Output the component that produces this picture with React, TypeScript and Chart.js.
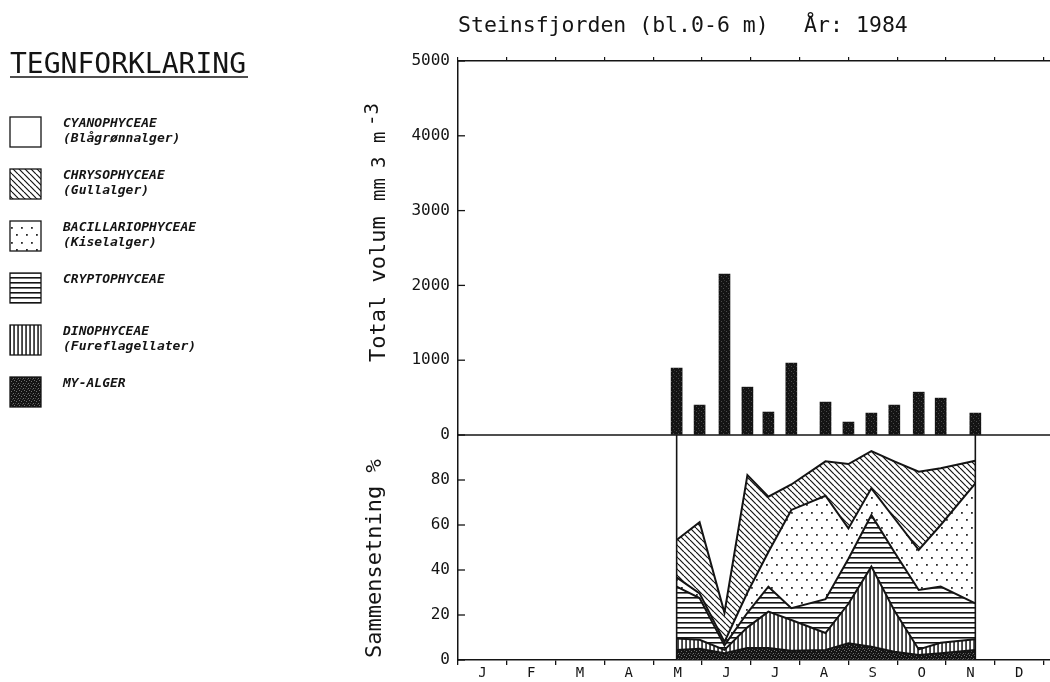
import React, { useEffect, useRef } from 'react';
import { Chart, registerables } from 'chart.js';

Chart.register(...registerables);

// sampling dates as position on the month axis (0 = 1 Jan, 12 = 31 Dec)
const sampleMonth = [4.48, 4.95, 5.46, 5.93, 6.36, 6.83, 7.53, 8.0, 8.47, 8.94, 9.44, 9.89, 10.6];

// total volume, mm3 per m3
const totalVolume = [893, 400, 2150, 640, 307, 960, 440, 173, 293, 400, 573, 493, 293];

// composition, % of total volume (stacked from the bottom)
const myAlger = [4.4, 5, 3, 5.3, 5.3, 4.1, 4.5, 7.4, 5.9, 3.7, 2.2, 3, 4.4];
const dinophyceae = [5.2, 4, 1.5, 9.2, 16.2, 13.7, 7.5, 17.6, 35.6, 18.3, 2.5, 4.7, 4.8];
const cryptophyceae = [23, 18.5, 2, 6.5, 11.1, 5.2, 15, 20, 22.9, 26, 26.4, 24.9, 16];
const bacillariophyceae = [4.1, 2.1, 1.5, 9, 15.4, 43.7, 46, 13.5, 11.9, 15, 17.8, 27.4, 53.3];
const chrysophyceae = [16.6, 31.6, 13, 52.2, 24.6, 11.3, 15.3, 28.6, 16.5, 25.3, 34.8, 25.2, 10.1];

const monthLabels = ['J', 'F', 'M', 'A', 'M', 'J', 'J', 'A', 'S', 'O', 'N', 'D'];
const monthEdges = [0, 1, 2, 3, 4, 5, 6, 7, 8, 9, 10, 11, 12];
const volumeTicks = [0, 1000, 2000, 3000, 4000, 5000];
const percentTicks = [0, 20, 40, 60, 80];

const legendItems = [
    { name: 'CYANOPHYCEAE', note: '(Blågrønnalger)', fill: 'blank' },
    { name: 'CHRYSOPHYCEAE', note: '(Gullalger)', fill: 'diag' },
    { name: 'BACILLARIOPHYCEAE', note: '(Kiselalger)', fill: 'dots' },
    { name: 'CRYPTOPHYCEAE', note: '', fill: 'horiz' },
    { name: 'DINOPHYCEAE', note: '(Fureflagellater)', fill: 'vert' },
    { name: 'MY-ALGER', note: '', fill: 'dark' },
];

const INK = '#141414';
const MONO = '"DejaVu Sans Mono", monospace';
const X_MAX = 12.13;
const MONTH_PX = 48.8;

function makePattern(kind: string): CanvasPattern | string {
    if (kind === 'blank') return '#ffffff';
    const sizes: Record<string, [number, number]> = {
        diag: [6, 6], dots: [10, 15], horiz: [4, 5], vert: [4, 4], dark: [5, 5], bar: [5, 5],
    };
    const [w, h] = sizes[kind];
    const c = document.createElement('canvas');
    c.width = w;
    c.height = h;
    const g = c.getContext('2d')!;
    g.fillStyle = '#fff';
    g.fillRect(0, 0, w, h);
    g.fillStyle = INK;
    g.strokeStyle = INK;
    if (kind === 'diag') {
        g.lineWidth = 1.2;
        for (const o of [-w, 0, w]) {
            g.beginPath();
            g.moveTo(o, 0);
            g.lineTo(o + w, h);
            g.stroke();
        }
    }
    if (kind === 'dots') {
        g.fillStyle = '#2a2a2a';
        g.fillRect(1, 2, 1.8, 1.8);
        g.fillRect(6, 9, 1.8, 1.8);
    }
    if (kind === 'horiz') g.fillRect(0, 2, w, 1.6);
    if (kind === 'vert') g.fillRect(1.3, 0, 1.5, h);
    if (kind === 'dark') {
        g.fillRect(0, 0, w, h);
        g.fillStyle = '#707070';
        g.fillRect(1, 1, 1, 1);
        g.fillRect(3, 3, 1, 1);
        g.fillRect(4, 0, 1, 1);
        g.fillStyle = '#444';
        g.fillRect(2, 4, 1, 1);
        g.fillRect(0, 3, 1, 1);
    }
    if (kind === 'bar') {
        g.fillRect(0, 0, w, h);
        g.fillStyle = '#4a4a4a';
        g.fillRect(1, 1, 1, 1);
        g.fillRect(3, 3, 1, 1);
        g.fillStyle = '#333';
        g.fillRect(4, 0, 1, 1);
    }
    return g.createPattern(c, 'repeat')!;
}

function text(ctx: CanvasRenderingContext2D, s: string, x: number, y: number, font: string) {
    ctx.font = font;
    ctx.textAlign = 'left';
    ctx.textBaseline = 'alphabetic';
    ctx.fillText(s, x, y);
}

function upText(ctx: CanvasRenderingContext2D, s: string, x: number, y: number, font: string, raise = 0) {
    ctx.save();
    ctx.translate(x, y);
    ctx.rotate(-Math.PI / 2);
    text(ctx, s, 0, -raise, font);
    ctx.restore();
}

function line(ctx: CanvasRenderingContext2D, x1: number, y1: number, x2: number, y2: number) {
    ctx.beginPath();
    ctx.moveTo(x1, y1);
    ctx.lineTo(x2, y2);
    ctx.stroke();
}

export default function App() {
    const canvasRef = useRef<HTMLCanvasElement>(null);

    useEffect(() => {
        if (!canvasRef.current) return;
        const fills: Record<string, CanvasPattern | string> = {};
        for (const k of ['blank', 'diag', 'dots', 'horiz', 'vert', 'dark', 'bar']) fills[k] = makePattern(k);

        const layers = [
            { label: 'MY-ALGER', values: myAlger, fill: 'dark' },
            { label: 'DINOPHYCEAE', values: dinophyceae, fill: 'vert' },
            { label: 'CRYPTOPHYCEAE', values: cryptophyceae, fill: 'horiz' },
            { label: 'BACILLARIOPHYCEAE', values: bacillariophyceae, fill: 'dots' },
            { label: 'CHRYSOPHYCEAE', values: chrysophyceae, fill: 'diag' },
        ];

        const decor = {
            id: 'decor',
            afterDatasetsDraw(chart: any) {
                const { ctx, chartArea, scales } = chart;
                const yTop = scales.yTop;
                const yBot = scales.yBot;
                ctx.save();
                ctx.strokeStyle = INK;
                ctx.lineWidth = 1.6;
                const y0 = yTop.getPixelForValue(0);
                line(ctx, chartArea.left, y0, chartArea.right, y0);
                for (const m of [sampleMonth[0], sampleMonth[sampleMonth.length - 1]]) {
                    const px = scales.x.getPixelForValue(m);
                    line(ctx, px, yBot.getPixelForValue(0), px, yBot.getPixelForValue(100));
                }
                ctx.lineWidth = 1.3;
                for (const s of [yTop, yBot]) {
                    for (const t of s.ticks) {
                        const py = s.getPixelForValue(t.value);
                        line(ctx, chartArea.left, py, chartArea.left + 7, py);
                    }
                }
                ctx.restore();
            },
            afterDraw(chart: any) {
                const ctx: CanvasRenderingContext2D = chart.ctx;
                ctx.save();
                ctx.fillStyle = INK;
                // title
                text(ctx, 'Steinsfjorden (bl.0-6 m)', 458, 32, `21.5px ${MONO}`);
                text(ctx, 'År:', 804, 32, `21.5px ${MONO}`);
                text(ctx, '1984', 856, 32, `21.5px ${MONO}`);
                // axis titles
                upText(ctx, 'Total volum', 385, 362, `22px ${MONO}`);
                upText(ctx, 'mm', 385, 201, `19px ${MONO}`);
                upText(ctx, '3', 385, 168, `19px ${MONO}`);
                upText(ctx, 'm', 385, 143, `19px ${MONO}`);
                upText(ctx, '-3', 385, 126, `19px ${MONO}`, 7);
                upText(ctx, 'Sammensetning %', 381, 658, `22px ${MONO}`);
                // legend
                text(ctx, 'TEGNFORKLARING', 10, 73, `28px ${MONO}`);
                ctx.strokeStyle = INK;
                ctx.lineWidth = 1.5;
                line(ctx, 10, 77, 248, 77);
                legendItems.forEach((item, i) => {
                    const top = 117 + 52 * i;
                    ctx.fillStyle = fills[item.fill] as any;
                    ctx.fillRect(10, top, 31, 30);
                    ctx.lineWidth = 1.3;
                    ctx.strokeRect(10, top, 31, 30);
                    ctx.fillStyle = INK;
                    text(ctx, item.name, 63, top + 10, `italic bold 13px ${MONO}`);
                    if (item.note) text(ctx, item.note, 63, top + 25, `italic bold 13px ${MONO}`);
                });
                ctx.restore();
            },
        };

        const tickFont = { family: MONO, size: 16 };
        const axisBorder = { display: true, color: INK, width: 1.5 };

        const chart = new Chart(canvasRef.current, {
            type: 'line',
            data: {
                datasets: [
                    ...layers.map((layer, i) => ({
                        type: 'line',
                        label: layer.label,
                        data: sampleMonth.map((x, j) => ({ x, y: layer.values[j] })),
                        xAxisID: 'x',
                        yAxisID: 'yBot',
                        fill: i === 0 ? 'origin' : '-1',
                        backgroundColor: fills[layer.fill],
                        borderColor: INK,
                        borderWidth: 2,
                        pointRadius: 0,
                        tension: 0,
                    })),
                    {
                        type: 'bar',
                        label: 'Total volum',
                        data: sampleMonth.map((x, j) => ({ x, y: totalVolume[j] })),
                        xAxisID: 'x',
                        yAxisID: 'yTop',
                        backgroundColor: fills.bar,
                        borderWidth: 0,
                        barThickness: 11,
                    },
                ],
            } as any,
            options: {
                responsive: false,
                animation: false,
                layout: { padding: 0 },
                plugins: {
                    legend: { display: false },
                    title: { display: false },
                    tooltip: { enabled: false },
                },
                scales: {
                    x: {
                        type: 'linear',
                        position: 'bottom',
                        min: 0,
                        max: X_MAX,
                        offset: false,
                        afterBuildTicks: (s: any) => { s.ticks = monthEdges.map(v => ({ value: v })); },
                        afterFit: (s: any) => { s.height = 22; },
                        grid: { drawOnChartArea: false, offset: false, tickLength: 5, color: INK, lineWidth: 1.3 },
                        border: axisBorder,
                        ticks: {
                            autoSkip: false,
                            maxRotation: 0,
                            padding: 0,
                            labelOffset: MONTH_PX / 2,
                            color: INK,
                            font: { family: MONO, size: 14 },
                            callback: (v: any) => monthLabels[v] ?? '',
                        },
                    },
                    xTop: {
                        type: 'linear',
                        position: 'top',
                        min: 0,
                        max: X_MAX,
                        offset: false,
                        afterBuildTicks: (s: any) => { s.ticks = monthEdges.map(v => ({ value: v })); },
                        afterFit: (s: any) => { s.height = 61; },
                        grid: { drawOnChartArea: false, offset: false, tickLength: 4, color: INK, lineWidth: 1.2 },
                        border: axisBorder,
                        ticks: { display: false },
                    },
                    yTop: {
                        type: 'linear',
                        position: 'left',
                        stack: 'panels',
                        stackWeight: 374,
                        weight: 1,
                        min: 0,
                        max: 5000,
                        afterBuildTicks: (s: any) => { s.ticks = volumeTicks.map(v => ({ value: v })); },
                        afterFit: (s: any) => { s.width = 458; },
                        grid: { drawOnChartArea: false, drawTicks: false },
                        border: axisBorder,
                        ticks: { padding: 8, color: INK, font: tickFont, callback: (v: any) => String(v) },
                    },
                    yBot: {
                        type: 'linear',
                        position: 'left',
                        stack: 'panels',
                        stackWeight: 225,
                        weight: 0,
                        stacked: true,
                        min: 0,
                        max: 100,
                        afterBuildTicks: (s: any) => { s.ticks = percentTicks.map(v => ({ value: v })); },
                        afterFit: (s: any) => { s.width = 458; },
                        grid: { drawOnChartArea: false, drawTicks: false },
                        border: axisBorder,
                        ticks: { padding: 8, color: INK, font: tickFont, callback: (v: any) => String(v) },
                    },
                },
            } as any,
            plugins: [decor],
        });

        return () => {
            chart.destroy();
        };
    }, []);

    return (
        <div style={{ position: 'absolute', left: 0, top: 0, width: 1050, height: 682, background: '#fff' }}>
            <canvas ref={canvasRef} width={1050} height={682} style={{ display: 'block' }} />
        </div>
    );
}
